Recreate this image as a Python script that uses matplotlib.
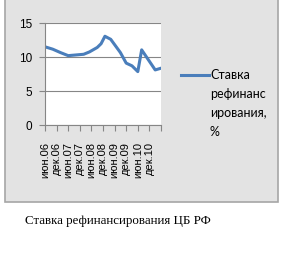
import matplotlib
matplotlib.use('Agg')
import matplotlib.pyplot as plt
from matplotlib.patches import Rectangle

# month index from Jun 2006 and the rate
months = [0, 4, 8, 12, 20, 23, 27, 29, 31, 34, 39, 42, 45, 48, 50, 57, 60]
rate = [11.5, 11.15, 10.65, 10.2, 10.4, 10.75, 11.4, 11.95, 13.05, 12.6,
        10.65, 9.1, 8.7, 7.85, 11.05, 8.1, 8.35]
tick_labels = ['июн.06', 'дек.06', 'июн.07', 'дек.07', 'июн.08',
               'дек.08', 'июн.09', 'дек.09', 'июн.10', 'дек.10']
legend_text = 'Ставка\nрефинанс\nирования,\n%'
caption = 'Ставка рефинансирования ЦБ РФ'

W, H = 281, 270
fig = plt.figure(figsize=(W / 100, H / 100), dpi=100)
fig.patch.set_facecolor('white')

# grey chart area
fig.patches.append(Rectangle((5 / W, 1 - 202 / H), 273 / W, 210 / H,
                             transform=fig.transFigure, facecolor='#e3e3e3',
                             edgecolor='#a6a6a6', linewidth=1.2, zorder=-5))

ax = fig.add_axes([45 / W, 1 - 125 / H, 116 / W, 102 / H])
ax.set_zorder(2)
ax.set_facecolor('white')
ax.plot(months, rate, color='#4a7ebb', linewidth=2.2, solid_joinstyle='round')
ax.set_xlim(0, 60)
ax.set_ylim(0, 15)
ax.set_yticks([0, 5, 10, 15])
ax.set_xticks(range(0, 61, 6))
ax.set_xticklabels(tick_labels + [''], rotation=90, fontsize=8,
                   family='Liberation Sans')
for lab in ax.get_yticklabels():
    lab.set_fontsize(8.5)
    lab.set_family('Liberation Sans')
ax.grid(axis='y', color='#868686', linewidth=0.8)
ax.set_axisbelow(True)
for s in ['top', 'right']:
    ax.spines[s].set_visible(False)
ax.spines['left'].set_color('#868686')
ax.spines['bottom'].set_color('#868686')
ax.tick_params(axis='both', length=4, color='#868686', labelcolor='#000000')
ax.tick_params(axis='y', pad=5)
ax.tick_params(axis='x', pad=8)

# legend
fig.add_artist(plt.Line2D([181 / W, 209 / W], [1 - 75 / H, 1 - 75 / H],
                          color='#4a7ebb', linewidth=2.2,
                          transform=fig.transFigure))
fig.text(210 / W, 1 - 69 / H, legend_text, fontsize=9, va='top', ha='left',
         family='Lato', linespacing=1.7)

fig.text(25 / W, 1 - 221 / H, caption, fontsize=9.3, va='center', ha='left',
         family='Liberation Serif')

fig.savefig('out.png', dpi=100)
